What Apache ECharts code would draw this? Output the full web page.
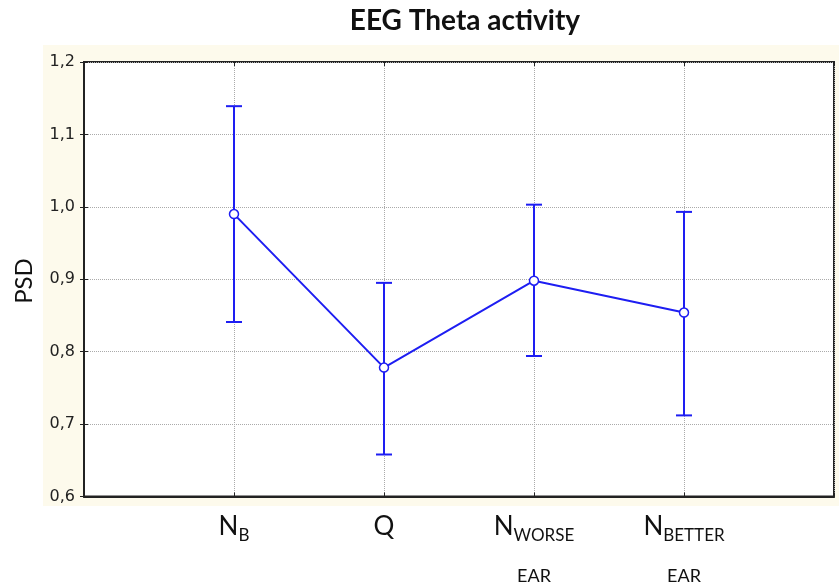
<!DOCTYPE html>
<html>
<head>
<meta charset="utf-8">
<script src="https://cdn.jsdelivr.net/npm/echarts@6/dist/echarts.min.js"></script>
<style>
  html, body { margin: 0; padding: 0; background: #fff; }
  #chart { width: 839px; height: 585px; }
</style>
</head>
<body>
<div id="chart"></div>
<script>
// 数据
const categories = ['N_B', 'Q', 'N_WORSE_EAR', 'N_BETTER_EAR'];
const means = [0.990, 0.778, 0.898, 0.854];
const upper = [1.139, 0.895, 1.003, 0.993];
const lower = [0.841, 0.658, 0.794, 0.712];
const yTicks = [0.6, 0.7, 0.8, 0.9, 1.0, 1.1, 1.2];

// 分类标签（带下标）
const labelText = {
  'N_B': '{n|N}{s|B}',
  'Q': '{n|Q}',
  'N_WORSE_EAR': '{n|N}{s|WORSE}\n{e|EAR}',
  'N_BETTER_EAR': '{n|N}{s|BETTER}\n{e|EAR}'
};

const blue = '#1e1ef2';
const chart = echarts.init(document.getElementById('chart'));

const linePoints = means.map((v, i) => [i + 1, v]);
const errData = means.map((v, i) => [i + 1, lower[i], upper[i]]);

const option = {
  animation: false,
  backgroundColor: '#fff',
  title: {
    text: 'EEG Theta activity',
    left: 460,
    textAlign: 'center',
    top: 2,
    textStyle: { fontFamily: 'Lato', fontWeight: 'bold', fontSize: 28, color: '#111' }
  },
  graphic: [{
    type: 'rect',
    z: -10,
    shape: { x: 43, y: 45, width: 796, height: 461 },
    style: { fill: '#fdfaec' }
  }, {
    type: 'text',
    x: 24,
    y: 281,
    rotation: Math.PI / 2,
    style: {
      text: 'PSD', fontFamily: 'Lato', fontSize: 24, fill: '#111',
      align: 'center', verticalAlign: 'middle'
    }
  }],
  grid: {
    left: 84, top: 62, right: 5, bottom: 88,
    show: true,
    backgroundColor: '#fff',
    borderColor: '#222',
    borderWidth: 2
  },
  xAxis: [{
    type: 'value',
    min: 0, max: 5, interval: 1,
    axisLine: { show: true, onZero: false, lineStyle: { color: '#222', width: 2 } },
    axisTick: { show: true, inside: true, length: 4, lineStyle: { color: '#222' } },
    splitLine: { show: true, lineStyle: { type: 'dotted', color: '#aaa' } },
    axisLabel: {
      margin: 17,
      formatter: v => (v >= 1 && v <= 4) ? labelText[categories[v - 1]] : '',
      rich: {
        n: { fontFamily: 'Lato', fontSize: 26, lineHeight: 30, color: '#111', verticalAlign: 'top' },
        s: { fontFamily: 'Lato', fontSize: 17, lineHeight: 31, color: '#111', verticalAlign: 'bottom' },
        e: { fontFamily: 'Lato', fontSize: 18, lineHeight: 63, color: '#111' }
      }
    }
  }, {
    type: 'value',
    position: 'top',
    min: 0, max: 5, interval: 1,
    axisLine: { show: false },
    axisTick: { show: true, inside: true, length: 4, lineStyle: { color: '#222' } },
    axisLabel: { show: false },
    splitLine: { show: false }
  }],
  yAxis: [{
    type: 'value',
    min: 0.6, max: 1.2, interval: 0.1,
    axisLine: { show: true, lineStyle: { color: '#222', width: 2 } },
    axisTick: { show: true, inside: true, length: 4, lineStyle: { color: '#222' } },
    splitLine: { show: true, lineStyle: { type: 'dotted', color: '#aaa' } },
    axisLabel: {
      margin: 9,
      fontFamily: 'DejaVu Sans',
      fontSize: 16,
      color: '#222',
      formatter: v => {
        const t = yTicks.find(k => Math.abs(k - v) < 1e-6);
        return t === undefined ? '' : t.toFixed(1).replace('.', ',');
      }
    }
  }, {
    type: 'value',
    position: 'right',
    min: 0.6, max: 1.2, interval: 0.1,
    axisLine: { show: false },
    axisTick: { show: true, inside: true, length: 4, lineStyle: { color: '#222' } },
    axisLabel: { show: false },
    splitLine: { show: false }
  }],
  series: [{
    type: 'custom',
    xAxisIndex: 0,
    yAxisIndex: 0,
    data: errData,
    z: 3,
    renderItem: (params, api) => {
      const x = api.value(0);
      const lo = api.coord([x, api.value(1)]);
      const hi = api.coord([x, api.value(2)]);
      const hw = 8;
      const style = { stroke: blue, lineWidth: 2 };
      return {
        type: 'group',
        children: [
          { type: 'line', shape: { x1: lo[0], y1: lo[1], x2: hi[0], y2: hi[1] }, style },
          { type: 'line', shape: { x1: hi[0] - hw, y1: hi[1], x2: hi[0] + hw, y2: hi[1] }, style },
          { type: 'line', shape: { x1: lo[0] - hw, y1: lo[1], x2: lo[0] + hw, y2: lo[1] }, style }
        ]
      };
    }
  }, {
    type: 'line',
    xAxisIndex: 0,
    yAxisIndex: 0,
    data: linePoints,
    z: 4,
    symbol: 'circle',
    symbolSize: 9,
    showSymbol: true,
    lineStyle: { color: blue, width: 2 },
    itemStyle: { color: '#fff', borderColor: blue, borderWidth: 1.5 }
  }]
};

chart.setOption(option);
</script>
</body>
</html>
